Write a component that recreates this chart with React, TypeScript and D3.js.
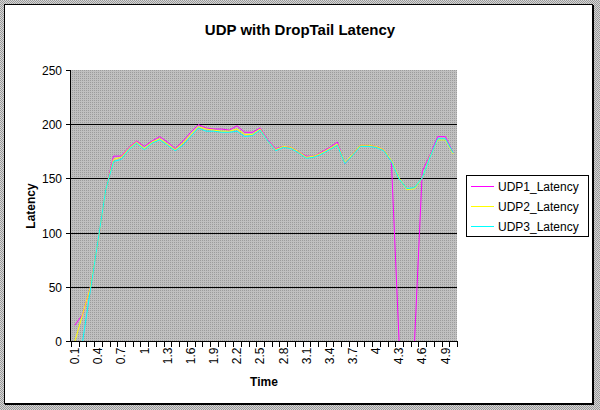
import React from 'react';
import * as d3 from 'd3';

const categories = ['0.1','0.2','0.3','0.4','0.5','0.6','0.7','0.8','0.9','1','1.1','1.2','1.3','1.4','1.5','1.6','1.7','1.8','1.9','2','2.1','2.2','2.3','2.4','2.5','2.6','2.7','2.8','2.9','3','3.1','3.2','3.3','3.4','3.5','3.6','3.7','3.8','3.9','4','4.1','4.2','4.3','4.4','4.5','4.6','4.7','4.8','4.9','5'];

const xTickLabels = ['0.1','0.4','0.7','1','1.3','1.6','1.9','2.2','2.5','2.8','3.1','3.4','3.7','4','4.3','4.6','4.9'];
const yTicks = [0, 50, 100, 150, 200, 250];
const gridValues = [50, 100, 150, 200];

const udp1: (number | null)[] = [15,25,50,92,140,171,171,179,185,180,185,189,184,178,185,193,200,197,196,196,195,199,193,193,197,186,178,180,179,175,171,171,175,179,184,164,173,181,181,180,177,166,0,0,0,157,172,189,189,174];
const udp2: (number | null)[] = [0,25,50,92,140,168,170,178,184,178,184,187,182,177,183,191,198,196,195,194,194,196,191,191,196,185,177,180,179,175,170,171,174,178,182,165,173,181,181,180,177,167,151,140,141,151,171,186,186,173];
const udp3: (number | null)[] = [null,0,47,93,140,166,168,177,183,177,183,186,181,176,181,189,197,194,194,193,193,194,189,190,195,185,176,179,178,174,169,170,173,177,181,164,172,180,180,179,176,166,150,141,142,151,170,187,187,174];

const seriesNames = ['UDP1_Latency', 'UDP2_Latency', 'UDP3_Latency'];
const seriesData = [udp1, udp2, udp3];
const seriesColors = ['#ff00ff', '#ffff00', '#00ffff'];

const FONT = "'Liberation Sans', Arial, Helvetica, sans-serif";

export default function App() {
  const W = 600, H = 410;
  const left = 71, right = 457, top = 70.5, bottom = 341.5;

  const x = d3.scaleBand<string>().domain(categories).range([left, right]).paddingInner(0).paddingOuter(0);
  const y = d3.scaleLinear().domain([0, 250]).range([bottom, top]);
  const bw = x.bandwidth();
  const cx = (c: string) => (x(c) as number) + bw / 2;
  const snap = (v: number) => Math.floor(v) + 0.5;

  const line = d3.line<number | null>()
    .defined(d => d !== null)
    .x((_, i) => cx(categories[i]))
    .y(d => y(d as number));

  const boundaries = d3.range(categories.length + 1).map(i => left + i * bw);

  return (
    <svg width={W} height={H} style={{ position: 'absolute', left: 0, top: 0, display: 'block' }} fontFamily={FONT}>
      <defs>
        <pattern id="outer" width="2" height="2" patternUnits="userSpaceOnUse">
          <rect width="2" height="2" fill="#d6d6d6" />
          <rect x="0" y="0" width="1" height="1" fill="#9a9a9a" />
          <rect x="1" y="1" width="1" height="1" fill="#9a9a9a" />
        </pattern>
        <pattern id="dots" width="2" height="2" patternUnits="userSpaceOnUse">
          <rect width="2" height="2" fill="#c0c0c0" />
          <rect x="0" y="0" width="1" height="1" fill="#9c9c9c" />
        </pattern>
        <clipPath id="plotclip">
          <rect x={left} y={top - 1} width={right - left} height={bottom - top + 1.5} />
        </clipPath>
      </defs>

      <rect x={0} y={0} width={W} height={H} fill="url(#outer)" shapeRendering="crispEdges" />
      <rect x={4.5} y={4.5} width={588} height={399} fill="#ffffff" stroke="#000" strokeWidth={1} shapeRendering="crispEdges" />
      <line x1={593.5} y1={5} x2={593.5} y2={405} stroke="#000" shapeRendering="crispEdges" />
      <line x1={5} y1={404.5} x2={594} y2={404.5} stroke="#000" shapeRendering="crispEdges" />

      <text x={300} y={35} textAnchor="middle" fontSize={15} fontWeight="bold" fill="#000">UDP with DropTail Latency</text>

      {/* plot area */}
      <rect x={left} y={Math.floor(top)} width={right - left} height={Math.floor(bottom) - Math.floor(top)} fill="url(#dots)" shapeRendering="crispEdges" />

      {gridValues.map(v => (
        <line key={v} x1={left} x2={right} y1={snap(y(v))} y2={snap(y(v))} stroke="#000" strokeWidth={1} shapeRendering="crispEdges" />
      ))}

      <g clipPath="url(#plotclip)">
        {seriesData.map((s, k) => (
          <path key={k} d={line(s) || ''} fill="none" stroke={seriesColors[k]} strokeWidth={1} strokeLinejoin="round" />
        ))}
      </g>

      {/* y axis */}
      <line x1={left - 0.5} x2={left - 0.5} y1={Math.floor(top)} y2={snap(y(0)) + 0.5} stroke="#000" shapeRendering="crispEdges" />
      {yTicks.map(v => (
        <g key={v}>
          <line x1={left - 5} x2={left} y1={snap(y(v))} y2={snap(y(v))} stroke="#000" shapeRendering="crispEdges" />
          <text x={left - 9} y={snap(y(v))} dy="0.35em" textAnchor="end" fontSize={12} fill="#000">{v}</text>
        </g>
      ))}

      {/* x axis */}
      <line x1={left - 0.5} x2={right + 0.5} y1={snap(y(0))} y2={snap(y(0))} stroke="#000" shapeRendering="crispEdges" />
      {boundaries.map((bx, i) => (
        <line key={i} x1={Math.round(bx) + 0.5} x2={Math.round(bx) + 0.5} y1={snap(y(0))} y2={snap(y(0)) + 5} stroke="#000" shapeRendering="crispEdges" />
      ))}
      {xTickLabels.map(c => (
        <text key={c} transform={`translate(${cx(c)},${snap(y(0)) + 6}) rotate(-90)`} dy="0.35em" textAnchor="end" fontSize={12} fill="#000">{c}</text>
      ))}

      <text x={(left + right) / 2} y={386} textAnchor="middle" fontSize={12} fontWeight="bold" fill="#000">Time</text>
      <text transform={`translate(31,${(top + bottom) / 2}) rotate(-90)`} dy="0.35em" textAnchor="middle" fontSize={12} fontWeight="bold" fill="#000">Latency</text>

      {/* legend */}
      <rect x={466.5} y={175.5} width={122} height={61} fill="#fff" stroke="#000" shapeRendering="crispEdges" />
      {seriesNames.map((n, k) => (
        <g key={n}>
          <line x1={471} x2={494} y1={186.5 + k * 20} y2={186.5 + k * 20} stroke={seriesColors[k]} strokeWidth={1} shapeRendering="crispEdges" />
          <text x={498} y={186.5 + k * 20} dy="0.35em" fontSize={12} fill="#000">{n}</text>
        </g>
      ))}
    </svg>
  );
}
